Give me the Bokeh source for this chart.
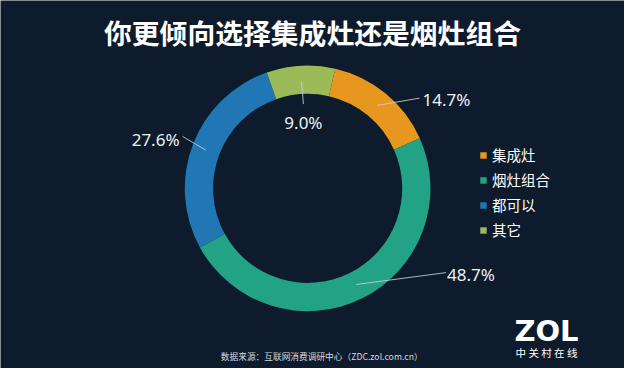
import numpy as np
from bokeh.plotting import figure
from bokeh.models import Range1d, ColumnDataSource, Legend, LegendItem
from bokeh.core.properties import value
from bokeh.embed import file_html
from bokeh.resources import INLINE

# ---- data ----
categories = ["集成灶", "烟灶组合", "都可以", "其它"]
shares = [14.7, 48.7, 27.6, 9.0]
colors = ["#e8971e", "#22a386", "#2177b3", "#9cba57"]
title_text = "你更倾向选择集成灶还是烟灶组合"
source_text = "数据来源：互联网消费调研中心（ZDC.zol.com.cn）"
logo_text = "ZOL"
logo_sub = "中 关 村 在 线"

# ---- layout / style ----
BG = "#0e1b2c"
W, H = 624, 368
PAGE_W, PAGE_H = 640, 384
def Y(ref_y):
    return PAGE_H - ref_y

CX, CY = 315, Y(196)
R_IN, R_OUT = 97, 126
START_CW = 13.0  # degrees clockwise from 12 o'clock
LINE_R0 = 112
label_r = [148.5, 167, 139.3, 88]
label_shift = [11.2, -31.8, 2.0, 0.4]
label_align = ["left", "left", "right", "center"]
label_dx = [3, 1, -3, 0]
label_dy = [1, 2, 3, 18]

p = figure(width=W, height=H, output_backend="svg", toolbar_location=None,
           x_range=Range1d(0, PAGE_W), y_range=Range1d(0, PAGE_H),
           x_axis_location=None, y_axis_location=None, min_border=0)
p.grid.visible = False
p.outline_line_color = None
p.background_fill_color = BG
p.border_fill_color = BG

vals = np.array(shares, dtype=float)
frac = vals / vals.sum()
cum_end = np.cumsum(frac)
cum_start = cum_end - frac
a0 = START_CW + cum_start * 360.0
a1 = START_CW + cum_end * 360.0
mid = (a0 + a1) / 2.0

src = ColumnDataSource(dict(
    cat=categories, color=colors,
    start=np.deg2rad(90.0 - a1), end=np.deg2rad(90.0 - a0),
))
wedges = p.annular_wedge(x=CX, y=CY, inner_radius=R_IN, outer_radius=R_OUT,
                         start_angle="start", end_angle="end", direction="anticlock",
                         fill_color="color", line_color=None, source=src)

# leader lines and labels
lab_txt = ["%.1f%%" % v for v in shares]
la = np.deg2rad(mid)
le = np.deg2rad(mid + np.array(label_shift))
lr = np.array(label_r)
x0 = CX + LINE_R0 * np.sin(la)
y0 = CY + LINE_R0 * np.cos(la)
x1 = CX + lr * np.sin(le)
y1 = CY + lr * np.cos(le)
p.segment(x0=x0, y0=y0, x1=x1, y1=y1, line_color="#c9cfd6", line_alpha=0.85, line_width=1)
lsrc = ColumnDataSource(dict(x=x1, y=y1, t=lab_txt, align=label_align, dx=label_dx, dy=label_dy))
p.text(x="x", y="y", text="t", source=lsrc, text_align="align", text_baseline="middle",
       x_offset="dx", y_offset="dy",
       text_font=value("Noto Sans"), text_font_size="17px", text_color="#eef1f4")

# title
p.text(x=[320], y=[Y(33)], text=[title_text], text_align="center", text_baseline="middle",
       text_font=value("Noto Sans CJK SC"), text_font_style="bold",
       text_font_size="27.8px", text_color="#ffffff")

# source note
p.text(x=[226], y=[Y(371)], text=[source_text], text_align="left", text_baseline="middle",
       text_font=value("Noto Sans CJK SC"), text_font_size="8.7px", text_color="#d5d9de")

# logo
p.text(x=[560], y=[Y(345)], text=[logo_text], text_align="center", text_baseline="middle",
       text_font=value("DejaVu Sans"), text_font_style="bold",
       text_font_size="29px", text_color="#ffffff")
p.text(x=[560], y=[Y(367)], text=[logo_sub], text_align="center", text_baseline="middle",
       text_font=value("Noto Sans CJK SC"), text_font_size="10.5px", text_color="#ffffff")

# legend
items = [LegendItem(label=c, renderers=[wedges], index=i) for i, c in enumerate(categories)]
legend = Legend(items=items, location=(479, 128), orientation="vertical",
                background_fill_alpha=0, border_line_color=None,
                label_text_color="#ffffff", label_text_font="Noto Sans CJK SC",
                label_text_font_size="14.5px", glyph_width=8, glyph_height=8,
                label_height=20, label_standoff=5, spacing=4, padding=0, margin=0)
p.add_layout(legend)

open("out.html", "w").write(file_html(p, INLINE))
